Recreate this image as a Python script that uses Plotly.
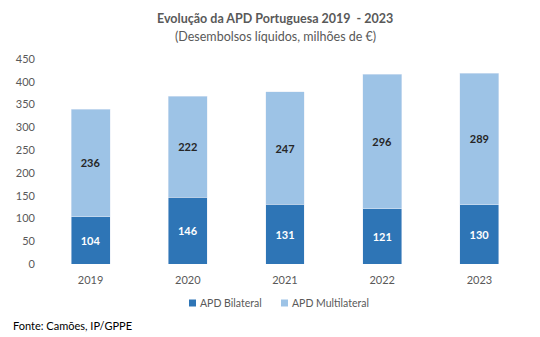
import plotly.graph_objects as go

years = ["2019", "2020", "2021", "2022", "2023"]
bilateral = [104, 146, 131, 121, 130]
multilateral = [236, 222, 247, 296, 289]
y_ticks = [0, 50, 100, 150, 200, 250, 300, 350, 400, 450]
series_names = ["APD Bilateral", "APD Multilateral"]
series_colors = ["#2E75B6", "#9DC3E6"]

FONT = "Lato, 'Open Sans', sans-serif"
W, H = 540, 337
L, R, T, B = 42, 12, 59, 73
PW, PH = W - L - R, H - T - B


def px(x):
    return (x - L) / PW


def py(y):
    return (H - B - y) / PH


fig = go.Figure()
fig.add_trace(go.Bar(
    name=series_names[0], x=years, y=bilateral,
    marker=dict(color=series_colors[0]),
    text=bilateral, textposition="inside", insidetextanchor="middle",
    textfont=dict(color="white", size=11, family=FONT, weight="bold"),
))
fig.add_trace(go.Bar(
    name=series_names[1], x=years, y=multilateral,
    marker=dict(color=series_colors[1]),
    text=multilateral, textposition="inside", insidetextanchor="middle",
    textfont=dict(color="#262626", size=11, family=FONT, weight="bold"),
))

fig.update_layout(
    barmode="stack",
    bargap=0.6,
    width=W, height=H,
    paper_bgcolor="white", plot_bgcolor="white",
    margin=dict(l=L, r=R, t=T, b=B, autoexpand=False),
    font=dict(family=FONT, color="#595959", size=11),
    showlegend=False,
    uniformtext=dict(mode="show", minsize=8),
)

fig.add_annotation(text="<b>Evolução da APD Portuguesa 2019  - 2023</b>", xref="paper", yref="paper",
                   x=px(275), y=py(18), showarrow=False,
                   font=dict(size=12.5, color="#595959"), xanchor="center", yanchor="middle")
fig.add_annotation(text="(Desembolsos líquidos, milhões de €)", xref="paper", yref="paper",
                   x=px(275), y=py(37), showarrow=False,
                   font=dict(size=12.5, color="#595959"), xanchor="center", yanchor="middle")
fig.add_annotation(text="Fonte: Camões, IP/GPPE", xref="paper", yref="paper",
                   x=px(11), y=py(325), showarrow=False,
                   font=dict(size=11, color="#000000"), xanchor="left", yanchor="middle")

# manual legend
legend_x = [189, 281]
for name, color, lx in zip(series_names, series_colors, legend_x):
    fig.add_shape(type="rect", xref="paper", yref="paper",
                  x0=px(lx), x1=px(lx + 7), y0=py(306.5), y1=py(299.5),
                  fillcolor=color, line=dict(width=0))
    fig.add_annotation(text=name, xref="paper", yref="paper",
                       x=px(lx + 9), y=py(303), showarrow=False,
                       font=dict(size=10.5, color="#595959"), xanchor="left", yanchor="middle")

fig.update_xaxes(showgrid=False, showline=False, ticks="", ticklabelstandoff=8,
                 tickfont=dict(size=11, color="#595959"))
fig.update_yaxes(range=[0, 450], tickvals=y_ticks, showgrid=False, zeroline=False,
                 showline=False, ticks="", ticklabelstandoff=6,
                 tickfont=dict(size=11, color="#595959"))

fig.write_html("out.html")
